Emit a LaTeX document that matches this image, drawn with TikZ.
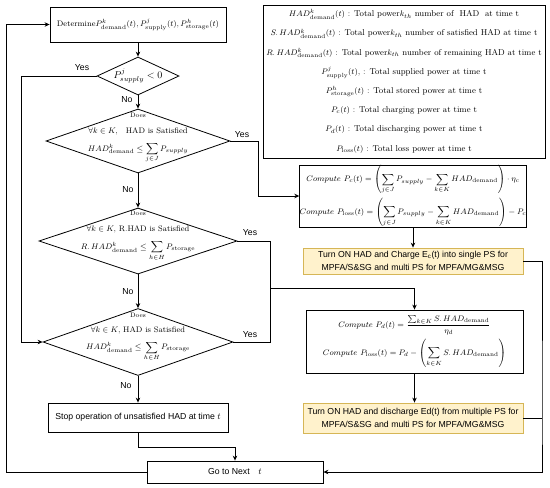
\documentclass[tikz,border=0pt]{standalone}
\usepackage{amsmath}
\usepackage{fontspec}
\newfontfamily\lsans{Liberation Sans}
\usetikzlibrary{arrows.meta,shapes.geometric}
\definecolor{noteFill}{HTML}{FFF2CC}
\definecolor{noteLine}{HTML}{D6B656}
\begin{document}
\begin{tikzpicture}[x=1pt,y=-1pt,line width=0.8pt,
  every node/.style={font=\fontsize{8}{9.6}\selectfont,inner sep=0pt},
  flowbox/.style={draw,rectangle,align=center},
  notebox/.style={draw=noteLine,fill=noteFill,align=center,font=\lsans\fontsize{8.7}{12.5}\selectfont},
  dia/.style={draw,diamond,inner sep=0pt},
  lab/.style={font=\lsans\fontsize{8.7}{10}\selectfont},
  link/.style={-{Stealth[length=5pt,width=4.5pt]}}]
\useasboundingbox (0,0) rectangle (550,488);
% left column: checks
\node[flowbox,minimum width=176pt,minimum height=35pt] (det) at (138,24.5) {Determine$P^k_{\mathrm{demand}}(t), P^j_{\mathrm{supply}}(t), P^h_{\mathrm{storage}}(t)$};
\node[dia,minimum width=82pt,minimum height=38pt] (d1) at (138,76) {};
\node[font=\fontsize{10}{12}\selectfont] (q1) at (d1.center) {$P^j_{supply} < 0$};
\node[dia,minimum width=184pt,minimum height=64pt] (d2) at (138,141) {};
\node[align=center] (q2) at (138,138) {{\fontsize{6.5}{8}\selectfont Does}\\[6pt] $\forall k\in K,$\quad HAD is Satisfied\\[7pt] $HAD^k_{\mathrm{demand}}\le\displaystyle\sum_{j\in J}P_{supply}$};
\node[dia,minimum width=198pt,minimum height=66pt] (d3) at (138,241) {};
\node[align=center] (q3) at (138,236) {{\fontsize{6.5}{8}\selectfont Does}\\[6pt] $\forall k\in K,$ R.HAD is Satisfied\\[7pt] $R.\,HAD^k_{\mathrm{demand}}\le\displaystyle\sum_{h\in H}P_{\mathrm{storage}}$};
\node[dia,minimum width=190pt,minimum height=67pt] (d4) at (138,342) {};
\node[align=center] (q4) at (138,337) {{\fontsize{6.5}{8}\selectfont Does}\\[6pt] $\forall k\in K,$ HAD is Satisfied\\[6pt] $HAD^k_{\mathrm{demand}}\le\displaystyle\sum_{h\in H}P_{\mathrm{storage}}$};
\node[flowbox,font=\lsans\fontsize{8.7}{10}\selectfont,minimum width=180pt,minimum height=29pt] (stop) at (138,417.5) {Stop operation of unsatisfied HAD at time $t$};
\node[flowbox,font=\lsans\fontsize{8.7}{10}\selectfont,minimum width=176pt,minimum height=22pt] (go) at (235,472) {Go to Next\quad$t$};
% right column: legend and actions
\node[flowbox,minimum width=282pt,minimum height=153pt,font=\fontsize{8.5}{19.2}\selectfont] (legend) at (404,81.5) {%
$HAD^k_{\mathrm{demand}}(t)$ : Total power$k_{th}$ number of~ HAD ~at time t\\
$S.\,HAD^k_{\mathrm{demand}}(t)$ : Total power$k_{th}$ number of satisfied HAD at time t\\
$R.\,HAD^k_{\mathrm{demand}}(t)$ : Total power$k_{th}$ number of remaining HAD at time t\\
$P^j_{\mathrm{supply}}(t)$, : Total supplied power at time t\\
$P^h_{\mathrm{storage}}(t)$ : Total stored power at time t\\
$P_c(t)$ : Total charging power at time t\\
$P_d(t)$ : Total discharging power at time t\\
$P_{\mathrm{loss}}(t)$ : Total loss power at time t};
\node[flowbox,minimum width=220pt,minimum height=62pt,font=\fontsize{8.5}{10}\selectfont] (comp1) at (413,196) {%
$\displaystyle Compute\ P_c(t)=\left(\sum_{j\in J}P_{supply}-\sum_{k\in K}HAD_{\mathrm{demand}}\right)\cdot\eta_c$\\[3pt]
$\displaystyle Compute\ P_{\mathrm{loss}}(t)=\left(\sum_{j\in J}P_{supply}-\sum_{k\in K}HAD_{\mathrm{demand}}\right)-P_c$};
\node[notebox,minimum width=220pt,minimum height=26pt] (turn1) at (413,261) {Turn ON HAD and Charge E\textsubscript{c}(t) into single PS for\\MPFA/S\&SG and multi PS for MPFA/MG\&MSG};
\node[flowbox,minimum width=217pt,minimum height=63pt,font=\fontsize{8.5}{10}\selectfont] (comp2) at (414.5,341.5) {%
$\displaystyle Compute\ P_d(t)=\frac{\sum_{k\in K}S.\,HAD_{\mathrm{demand}}}{\eta_d}$\\[3pt]
$\displaystyle Compute\ P_{\mathrm{loss}}(t)=P_d-\left(\sum_{k\in K}S.\,HAD_{\mathrm{demand}}\right)$};
\node[notebox,minimum width=220pt,minimum height=30pt] (turn2) at (413,418) {Turn ON HAD and discharge Ed(t) from multiple PS for\\MPFA/S\&SG and multi PS for MPFA/MG\&MSG};
% yes / no labels
\foreach \n/\x/\y/\t in {y1/82/68/Yes,n1/127/100/No,y2/242/135/Yes,n2/128/190/No,y3/250/233/Yes,n3/128/292/No,y4/250/335/Yes,n4/126/386/No}
  \node[lab] (\n) at (\x,\y) {\t};
% connectors
\draw[link] (det) -- (d1);
\draw[link] (d1) -- (d2);
\draw[link] (d2) -- (d3);
\draw[link] (d3) -- (d4);
\draw[link] (d4) -- (stop);
\draw[link] (d1.west) -- ++(-75,0) |- (d4.west);
\draw[link] (d2.east) -- ++(28,0) |- (comp1.west);
\coordinate (mrg) at (270,288);
\draw (d3.east) -| (mrg);
\draw (d4.east) -| (mrg);
\draw[link] (mrg) -| (comp2.north);
\draw[link] (comp1) -- (turn1);
\draw[link] (comp2.south) -- (comp2.south |- turn2.north);
\coordinate (rail) at (542,418);
\draw[link] (turn1.east) -| (rail) |- (go.east);
\draw (turn2.east) -- (rail);
\draw[link] (stop.south) -- ++(0,15) -| (go.north);
\draw[link] (go.west) -- ++(-140,0) |- (det.west);
\end{tikzpicture}
\end{document}
